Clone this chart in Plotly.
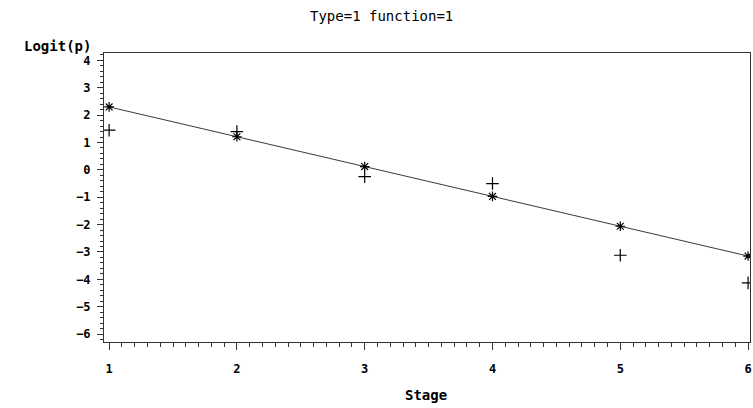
import plotly.graph_objects as go

stage = [1, 2, 3, 4, 5, 6]
observed = [1.45, 1.40, -0.25, -0.50, -3.12, -4.13]
predicted = [2.30, 1.21, 0.12, -0.97, -2.06, -3.15]
x_ticks = [1, 2, 3, 4, 5, 6]
y_ticks = [4, 3, 2, 1, 0, -1, -2, -3, -4, -5, -6]

fig = go.Figure()
fig.add_trace(go.Scatter(
    x=stage, y=predicted, mode="lines+markers",
    line=dict(color="#3a3a3a", width=1),
    marker=dict(symbol="asterisk-open", size=8, color="black",
                line=dict(color="black", width=1.2)),
    showlegend=False))
fig.add_trace(go.Scatter(
    x=stage, y=observed, mode="markers",
    marker=dict(symbol="cross-thin-open", size=9, color="black",
                line=dict(color="black", width=1.2)),
    showlegend=False))

tickfont = dict(family="DejaVu Sans Mono", size=12, color="black", weight="bold")

fig.update_layout(
    width=753, height=408,
    margin=dict(l=104, r=1, t=53, b=66),
    paper_bgcolor="white", plot_bgcolor="white",
    xaxis=dict(range=[0.96, 6.015], tickvals=x_ticks, ticks="outside",
               ticklen=7, tickwidth=1, tickcolor="#333",
               showline=True, linecolor="#333", linewidth=1, mirror=True,
               showgrid=False, zeroline=False, tickfont=tickfont,
               ticklabelstandoff=9, ticklabeloverflow="allow",
               minor=dict(dtick=0.1, tick0=1, ticks="outside", ticklen=4,
                          tickcolor="#333", showgrid=False)),
    yaxis=dict(range=[-6.29, 4.27], tickvals=y_ticks, ticks="outside",
               ticklen=6, tickwidth=1, tickcolor="#333",
               showline=True, linecolor="#333", linewidth=1, mirror=True,
               showgrid=False, zeroline=False, tickfont=tickfont,
               ticklabelstandoff=4,
               minor=dict(dtick=0.2, tick0=0, ticks="outside", ticklen=3,
                          tickcolor="#333", showgrid=False)),
    annotations=[
        dict(text="Type=1 function=1", xref="paper", yref="paper",
             x=0.429, y=1.128, xanchor="center", yanchor="middle",
             showarrow=False,
             font=dict(family="DejaVu Sans Mono", size=14, color="black")),
        dict(text="Logit(p)", xref="paper", yref="paper",
             x=-0.017, y=1.025, xanchor="right", yanchor="middle",
             showarrow=False,
             font=dict(family="DejaVu Sans Mono", size=14, color="black", weight="bold")),
        dict(text="Stage", xref="paper", yref="paper",
             x=0.498, y=-0.183, xanchor="center", yanchor="middle",
             showarrow=False,
             font=dict(family="DejaVu Sans Mono", size=14, color="black", weight="bold")),
    ],
)

fig.write_html("out.html")
